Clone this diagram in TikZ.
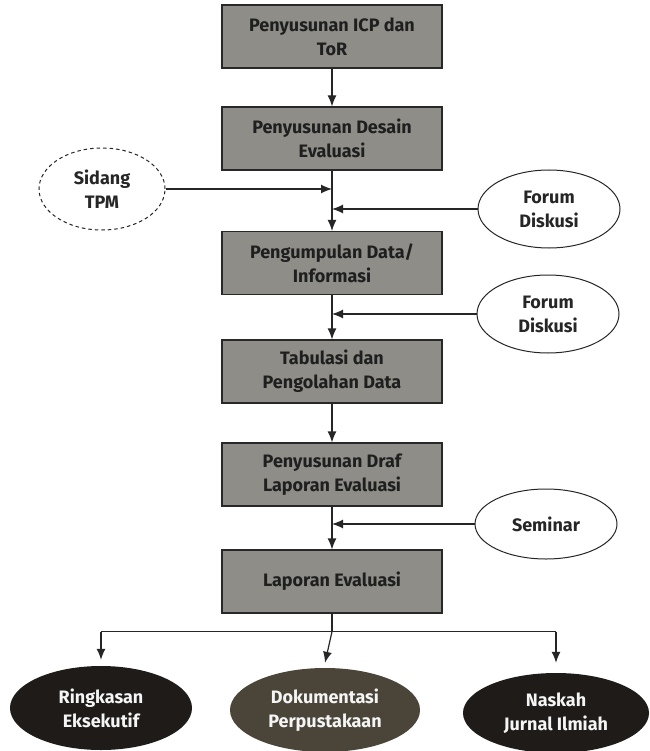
\documentclass[tikz,border=0pt]{standalone}
\usepackage{fontspec}
\setmainfont{Fira Sans}
\usetikzlibrary{arrows.meta,shapes.geometric,calc}

\definecolor{boxgray}{RGB}{142,141,136}
\definecolor{boxedge}{RGB}{40,40,40}
\definecolor{darkout}{RGB}{30,27,25}
\definecolor{brownout}{RGB}{74,69,56}

\tikzset{
  txt/.style={font=\fontsize{18}{24}\selectfont\bfseries},
  stepbox/.style={txt, draw=boxedge, line width=1.2pt, fill=boxgray,
    minimum width=220pt, minimum height=63pt, align=center, text=black!88},
  forum/.style={txt, ellipse, draw=black!85, line width=1pt, fill=white,
    minimum width=142pt, minimum height=78pt, inner sep=0pt, align=center,
    text=black!85},
  sidang/.style={forum, dashed, dash pattern=on 3.5pt off 3pt,
    minimum width=126pt, minimum height=82pt},
  result/.style={txt, ellipse, minimum width=182pt, minimum height=84pt, inner sep=0pt,
    align=center, text=white!92!gray},
  flow/.style={-{Latex[length=11pt,width=9pt]}, line width=1.2pt, draw=black!85},
  line/.style={line width=1.2pt, draw=black!85}
}

\begin{document}
\begin{tikzpicture}[x=1pt,y=-1pt]
\useasboundingbox (0,0) rectangle (649,751);

% main chain of process steps
\node[stepbox] (b1) at (332,36.5) {Penyusunan ICP dan\\ToR};
\node[stepbox] (b2) at (332,138.5) {Penyusunan Desain\\Evaluasi};
\node[stepbox] (b3) at (332,263) {Pengumpulan Data/\\Informasi};
\node[stepbox] (b4) at (332,371.5) {Tabulasi dan\\Pengolahan Data};
\node[stepbox] (b5) at (332,474.5) {Penyusunan Draf\\Laporan Evaluasi};
\node[stepbox] (b6) at (332,581.5) {Laporan Evaluasi};

% side inputs
\node[sidang] (tpm) at (102,189) {Sidang\\TPM};
\node[forum] (fd1) at (549,209) {Forum\\Diskusi};
\node[forum] (fd2) at (548,314) {Forum\\Diskusi};
\node[forum, minimum height=70pt] (sem) at (546,524) {Seminar};

% outputs
\node[result, fill=darkout] (r1) at (101,708) {Ringkasan\\Eksekutif};
\node[result, fill=brownout, minimum width=190pt] (r2) at (325,710) {Dokumentasi\\Perpustakaan};
\node[result, fill=darkout, minimum width=186pt, minimum height=80pt] (r3) at (556,713) {Naskah\\Jurnal Ilmiah};

% vertical flow
\draw[flow] (b1) -- (b2);
\draw[flow] (b2) -- (b3);
\draw[flow] (b3) -- (b4);
\draw[flow] (b4) -- (b5);
\draw[flow] (b5) -- (b6);

% joints on the trunk
\coordinate (jt) at (b2.south |- tpm.east);
\coordinate (j1) at (b2.south |- fd1.west);
\coordinate (j2) at (b3.south |- fd2.west);
\coordinate (j3) at (b5.south |- sem.west);
\draw[flow] (tpm.east) -- (jt);
\draw[flow] (fd1.west) -- (j1);
\draw[flow] (fd2.west) -- (j2);
\draw[flow] (sem.west) -- (j3);

% branching to outputs
\coordinate (split) at ($(b6.south)+(0,18)$);
\coordinate (sl) at (r1.north |- split);
\coordinate (sr) at (r3.north |- split);
\draw[line] (b6.south) -- (split);
\draw[line] (sl) -- (sr);
\draw[flow] (sl) -- ($(r1.north)+(0,-6)$);
\draw[flow] (split) -- ($(r2.north)+(0,-5)$);
\draw[flow] (sr) -- ($(r3.north)+(0,-10)$);
\end{tikzpicture}
\end{document}
